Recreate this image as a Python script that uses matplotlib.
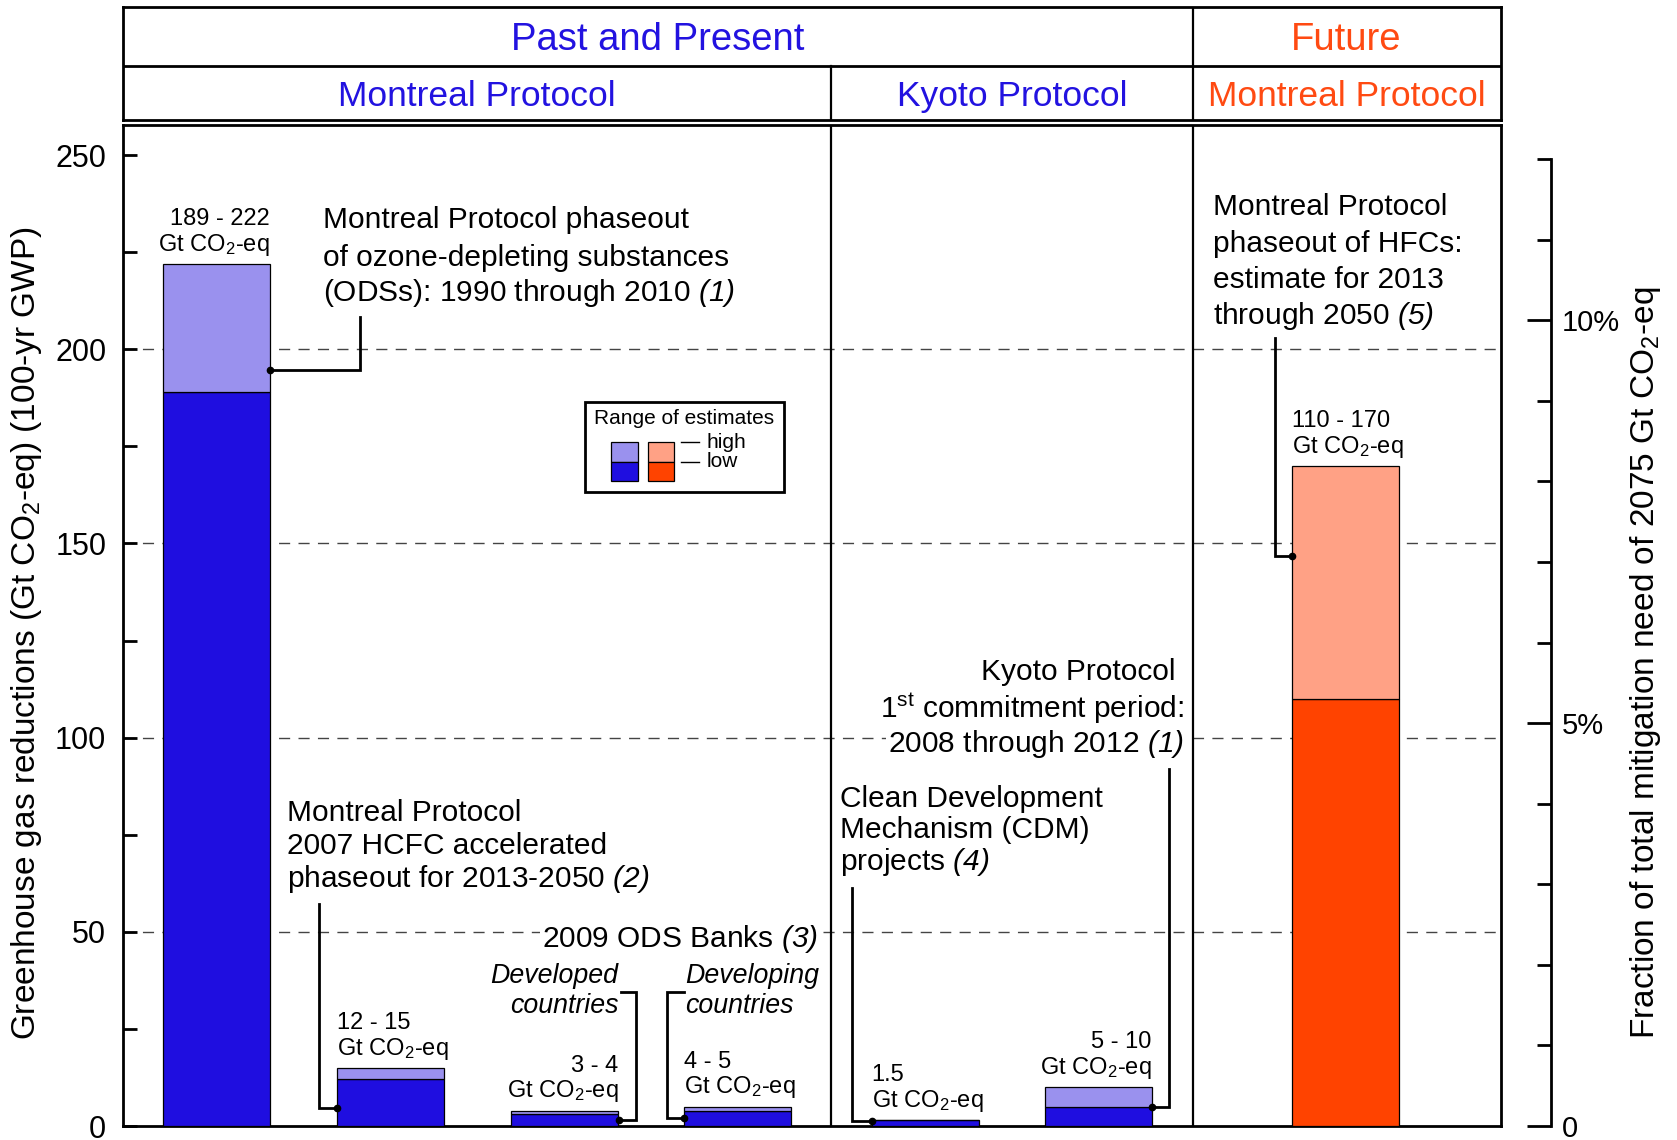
import matplotlib.pyplot as plt
from matplotlib.patches import Rectangle

plt.rcParams["font.family"] = ["Liberation Sans", "DejaVu Sans"]
plt.rcParams["mathtext.fontset"] = "custom"
plt.rcParams["mathtext.rm"] = "Liberation Sans"
plt.rcParams["mathtext.it"] = "Liberation Sans:italic"
plt.rcParams["mathtext.sf"] = "Liberation Sans:italic"

# --- data: greenhouse gas reductions, Gt CO2-eq (100-yr GWP) ---
bar_names = ["ODS phaseout 1990-2010", "HCFC accelerated phaseout",
             "ODS banks, developed", "ODS banks, developing",
             "CDM projects", "Kyoto 1st commitment period",
             "HFC phaseout 2013-2050"]
low = [189, 12, 3, 4, 1.5, 5, 110]
high = [222, 15, 4, 5, 1.5, 10, 170]
range_text = ["189 - 222", "12 - 15", "3 - 4", "4 - 5", "1.5", "5 - 10", "110 - 170"]
is_future = [False, False, False, False, False, False, True]
total_need = 2075  # Gt CO2-eq, for the right-hand axis

pct_major = [0, 5, 10]
pct_major_labels = ["0", "5%", "10%"]
pct_minor = [1, 2, 3, 4, 6, 7, 8, 9, 11, 12]

# --- layout (x in units of the panel, bars 1 wide) ---
bar_x = [0.875, 2.5, 4.13, 5.75, 7.5, 9.12, 11.43]
label_side = ["right", "left", "right", "left", "left", "right", "left"]
BAR_W = 1.0
X_MAX = 12.88
Y_MAX = 257.7
KYOTO_DIV, FUTURE_DIV = 6.62, 10.0

BLUE_LO, BLUE_HI = "#1f0ee0", "#9a91ee"
ORANGE_LO, ORANGE_HI = "#ff4300", "#ffa185"
BLUE_TXT, ORANGE_TXT = "#2212e0", "#ff4a12"
FS = 21.5

W, H = 1568, 1066  # reference measured on a 1568 x 1066 copy


def fx(px):
    return px / W


def fy(py):
    return 1 - py / H


fig = plt.figure(figsize=(16.77, 11.40), dpi=100)
ax = fig.add_axes([fx(115), fy(1053), fx(1403) - fx(115), fy(117) - fy(1053)])
ax.set_xlim(0, X_MAX)
ax.set_ylim(0, Y_MAX)
ax.set_xticks([])
ax.set_yticks(range(0, 251, 50))
ax.set_yticks(range(25, 250, 50), minor=True)
ax.tick_params(axis="y", which="both", direction="in", left=True, right=True,
               length=10, width=2, labelsize=22, pad=12)
for s in ax.spines.values():
    s.set_linewidth(2)

for g in [50, 100, 150, 200]:
    ax.axhline(g, color="#444444", lw=1.0, ls=(0, (8, 6)), zorder=1)
for d in [KYOTO_DIV, FUTURE_DIV]:
    ax.axvline(d, color="black", lw=1.6, zorder=2)

# bars: low estimate + range up to high estimate
for x, lo, hi, fut in zip(bar_x, low, high, is_future):
    c_lo, c_hi = (ORANGE_LO, ORANGE_HI) if fut else (BLUE_LO, BLUE_HI)
    ax.bar(x, lo, width=BAR_W, color=c_lo, edgecolor="black", lw=0.9, zorder=3)
    ax.bar(x, hi - lo, bottom=lo, width=BAR_W, color=c_hi, edgecolor="black",
           lw=0.9, zorder=3)

# value labels above each bar
for x, hi, txt, side in zip(bar_x, high, range_text, label_side):
    edge = x + BAR_W / 2 if side == "right" else x - BAR_W / 2
    ax.annotate("Gt CO$_2$-eq", (edge, hi), xytext=(0, 9.5), textcoords="offset points",
                ha=side, va="baseline", fontsize=17, zorder=5)
    ax.annotate(txt, (edge, hi), xytext=(0, 28), textcoords="offset points",
                ha=side, va="baseline", fontsize=17, zorder=5)


def block(x, ys, lines, ha="left", size=FS, **kw):
    for y, line in zip(ys, lines):
        ax.text(x, y, line, ha=ha, va="center", fontsize=size, zorder=5, **kw)


def callout(xs, ys):
    ax.plot(xs, ys, color="black", lw=2, zorder=4, solid_joinstyle="miter")
    ax.plot(xs[-1], ys[-1], "o", color="black", ms=4.5, zorder=4)


white = dict(facecolor="white", edgecolor="none", pad=1.5)

block(1.87, [233.4, 223.6, 214.6],
      ["Montreal Protocol phaseout", "of ozone-depleting substances",
       r"(ODSs): 1990 through 2010 $\mathsf{(1)}$"])
callout([2.22, 2.22, 1.375], [208.3, 194.6, 194.6])

block(1.53, [80.6, 72.0, 63.5],
      ["Montreal Protocol", "2007 HCFC accelerated",
       r"phaseout for 2013-2050 $\mathsf{(2)}$"])
callout([1.83, 1.83, 2.0], [57.3, 4.7, 4.7])

ax.text(6.50, 48.2, r"2009 ODS Banks $\mathsf{(3)}$", ha="right", va="center",
        fontsize=FS, zorder=5, bbox=white)
block(4.63, [38.6, 30.9], ["Developed", "countries"], ha="right", size=19.3,
      style="italic")
block(5.26, [38.6, 30.9], ["Developing", "countries"], ha="left", size=19.3,
      style="italic")
callout([4.66, 4.80, 4.80, 4.635], [34.6, 34.6, 1.5, 1.5])
callout([5.25, 5.085, 5.085, 5.25], [34.6, 34.6, 2.1, 2.1])

block(6.70, [84.1, 76.3, 67.9],
      ["Clean Development", "Mechanism (CDM)", r"projects $\mathsf{(4)}$"])
callout([6.82, 6.82, 7.0], [61.2, 1.4, 1.4])

block(9.92, [117.0, 107.6, 98.4],
      ["Kyoto Protocol ", r"1$^{\mathrm{st}}$ commitment period:",
       r"2008 through 2012 $\mathsf{(1)}$"], ha="right", bbox=white)
callout([9.78, 9.78, 9.62], [91.9, 5.0, 5.0])

block(10.19, [236.6, 227.1, 217.9, 208.6],
      ["Montreal Protocol", "phaseout of HFCs:", "estimate for 2013",
       r"through 2050 $\mathsf{(5)}$"])
callout([10.77, 10.77, 10.93], [203.0, 146.8, 146.8])

# legend box drawn by hand
ax.add_patch(Rectangle((4.32, 163.35), 1.86, 23.15, fill=False, lw=2,
                       edgecolor="black", zorder=5))
ax.text(5.245, 182.2, "Range of estimates", ha="center", va="center",
        fontsize=15, zorder=6)
for x0, c_lo, c_hi in [(4.563, BLUE_LO, BLUE_HI), (4.906, ORANGE_LO, ORANGE_HI)]:
    ax.add_patch(Rectangle((x0, 171.06), 0.25, 4.99, facecolor=c_hi,
                           edgecolor="black", lw=0.9, zorder=6))
    ax.add_patch(Rectangle((x0, 166.16), 0.25, 4.9, facecolor=c_lo,
                           edgecolor="black", lw=0.9, zorder=6))
for y, word in [(176.05, "high"), (171.06, "low")]:
    ax.plot([5.214, 5.389], [y, y], color="black", lw=1, zorder=6)
    ax.text(5.457, y, word, ha="left", va="center", fontsize=15, zorder=6)

ax.set_ylabel("Greenhouse gas reductions (Gt CO$_2$-eq) (100-yr GWP)", fontsize=24)
ax.yaxis.set_label_coords(-0.057, 0.4925)

# right-hand axis: fraction of total mitigation need
ax2 = ax.twinx()
ax2.set_ylim(0, Y_MAX / total_need * 100)
for s in ["top", "left", "bottom"]:
    ax2.spines[s].set_visible(False)
ax2.spines["right"].set_position(("axes", (1450 - 115) / (1403 - 115)))
ax2.spines["right"].set_bounds(0, 12)
ax2.spines["right"].set_linewidth(2)
ax2.set_yticks(pct_major)
ax2.set_yticklabels(pct_major_labels)
ax2.set_yticks(pct_minor, minor=True)
ax2.tick_params(axis="y", which="major", direction="in", length=17, width=2,
                labelsize=21, pad=8)
ax2.tick_params(axis="y", which="minor", direction="in", length=10, width=2)
ax2.set_ylabel("Fraction of total mitigation need of 2075 Gt CO$_2$-eq", fontsize=24)
ax2.yaxis.set_label_coords(1.0925, 0.4626)

# header table
hd = fig.add_axes([fx(115), fy(112), fx(1403) - fx(115), fy(7) - fy(112)])
hd.set_xlim(0, X_MAX)
hd.set_ylim(0, 1)
hd.set_xticks([])
hd.set_yticks([])
for s in hd.spines.values():
    s.set_linewidth(2)
split = (fy(62) - fy(112)) / (fy(7) - fy(112))
row1 = (fy(37) - fy(112)) / (fy(7) - fy(112))
row2 = (fy(90) - fy(112)) / (fy(7) - fy(112))
hd.axhline(split, color="black", lw=2)
hd.axvline(FUTURE_DIV, color="black", lw=1.6)
hd.axvline(KYOTO_DIV, ymax=split, color="black", lw=1.6)
hd.text(FUTURE_DIV / 2, row1, "Past and Present", ha="center", va="center",
        fontsize=27.5, color=BLUE_TXT)
hd.text((FUTURE_DIV + X_MAX) / 2, row1, "Future", ha="center", va="center",
        fontsize=27.5, color=ORANGE_TXT)
hd.text(KYOTO_DIV / 2, row2, "Montreal Protocol", ha="center", va="center",
        fontsize=25.5, color=BLUE_TXT)
hd.text((KYOTO_DIV + FUTURE_DIV) / 2, row2, "Kyoto Protocol", ha="center",
        va="center", fontsize=25.5, color=BLUE_TXT)
hd.text((FUTURE_DIV + X_MAX) / 2, row2, "Montreal Protocol", ha="center",
        va="center", fontsize=25.5, color=ORANGE_TXT)

fig.savefig("out.png", dpi=100)
